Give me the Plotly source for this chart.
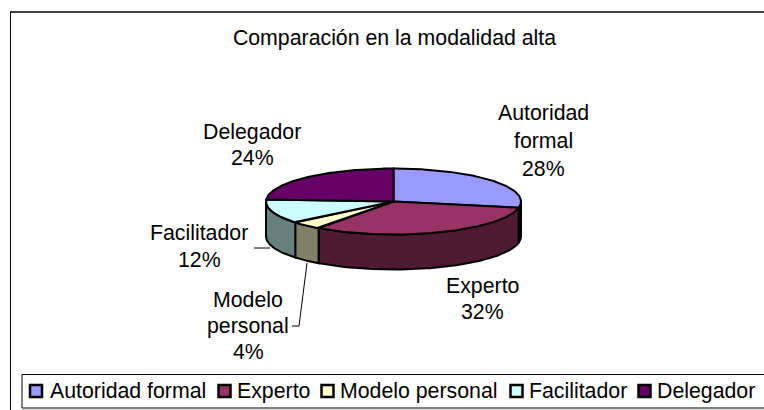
import numpy as np
import plotly.graph_objects as go

categories = ["Autoridad formal", "Experto", "Modelo personal", "Facilitador", "Delegador"]
values = [28, 32, 4, 12, 24]
top_colors = ["#9999FF", "#993366", "#FFFFCC", "#CCFFFF", "#660066"]
side_colors = ["#4D4D80", "#4D1933", "#808066", "#668080", "#330033"]
title_text = "Comparación en la modalidad alta"
label_lines = [["Autoridad", "formal"], ["Experto"], ["Modelo", "personal"], ["Facilitador"], ["Delegador"]]

CX, CY, RX, RY, DEPTH = 393.5, 201.5, 127.5, 33, 35
FONT = "Liberation Sans"
FS = 21.3
LAB_POS = [(543, 113, 28), (482, 286, 26), (248, 300, 26), (199, 233, 27), (252, 132, 26)]
LEG_SW = [36, 224.5, 327.5, 516.5, 644.5]
LEG_TX = [47.5, 235, 338, 527, 654.5]
LEG_Y = 391

fig = go.Figure()


def pt(theta, dy=0.0):
    return CX + RX * np.sin(theta), CY - RY * np.cos(theta) + dy


edges = np.deg2rad(np.cumsum([0] + values) * 3.6)
slices = list(zip(edges[:-1], edges[1:]))

# side walls: only the front half of the disc (90 to 270 degrees) is visible
for i, (a, b) in enumerate(slices):
    lo, hi = max(a, np.pi / 2), min(b, 3 * np.pi / 2)
    if hi <= lo:
        continue
    t = np.linspace(lo, hi, 80)
    x1, y1 = pt(t)
    x2, y2 = pt(t[::-1], DEPTH)
    fig.add_trace(go.Scatter(x=np.r_[x1, x2, x1[0]], y=np.r_[y1, y2, y1[0]], mode="lines", fill="toself",
                             fillcolor=side_colors[i], line=dict(color="black", width=2),
                             hoverinfo="skip", showlegend=False))

# top faces
for i, (a, b) in enumerate(slices):
    t = np.linspace(a, b, 120)
    x, y = pt(t)
    fig.add_trace(go.Scatter(x=np.r_[CX, x, CX], y=np.r_[CY, y, CY], mode="lines", fill="toself",
                             fillcolor=top_colors[i], line=dict(color="black", width=2),
                             name=categories[i], hoverinfo="name", showlegend=False))

# legend swatches
fig.add_trace(go.Scatter(x=LEG_SW, y=[LEG_Y] * 5, mode="markers", hoverinfo="skip", showlegend=False,
                         marker=dict(symbol="square", size=12, color=top_colors,
                                     line=dict(color="black", width=2.5))))

ann = []
for lines, v, (x, y, step) in zip(label_lines, values, LAB_POS):
    for k, s in enumerate(lines + [f"{v}%"]):
        ann.append(dict(x=x, y=y + k * step, text=s, showarrow=False, xanchor="center", yanchor="middle",
                        font=dict(family=FONT, size=FS, color="black")))
for s, x in zip(categories, LEG_TX):
    ann.append(dict(x=x, y=LEG_Y, text=s, showarrow=False, xanchor="left", yanchor="middle",
                    font=dict(family=FONT, size=FS, color="black")))

shapes = [
    dict(type="line", x0=10, y0=12, x1=764, y1=12, line=dict(color="#404040", width=2)),
    dict(type="line", x0=10.5, y0=12, x1=10.5, y1=410, line=dict(color="black", width=1)),
    dict(type="rect", x0=22, y0=374.5, x1=770, y1=408, line=dict(color="black", width=1)),
    dict(type="line", x0=22, y0=408.5, x1=764, y1=408.5, line=dict(color="#808080", width=1.5)),
    dict(type="line", x0=254, y0=248, x1=270, y1=248, line=dict(color="black", width=1)),
    dict(type="path", path="M 307 263 L 299 326 L 292 326", line=dict(color="black", width=1)),
]

fig.update_layout(
    width=764, height=410, margin=dict(l=0, r=0, t=0, b=0), autosize=False,
    paper_bgcolor="white", plot_bgcolor="white", showlegend=False,
    title=dict(text=title_text, x=394.5 / 764, xanchor="center", y=1 - 38 / 410, yanchor="middle",
               font=dict(family=FONT, size=FS, color="black")),
    xaxis=dict(range=[0, 764], visible=False, fixedrange=True),
    yaxis=dict(range=[410, 0], visible=False, fixedrange=True),
    annotations=ann, shapes=shapes,
)
fig.write_html("out.html", config=dict(displayModeBar=False),
               post_script="document.body.style.margin='0';document.documentElement.style.overflow='hidden';")
